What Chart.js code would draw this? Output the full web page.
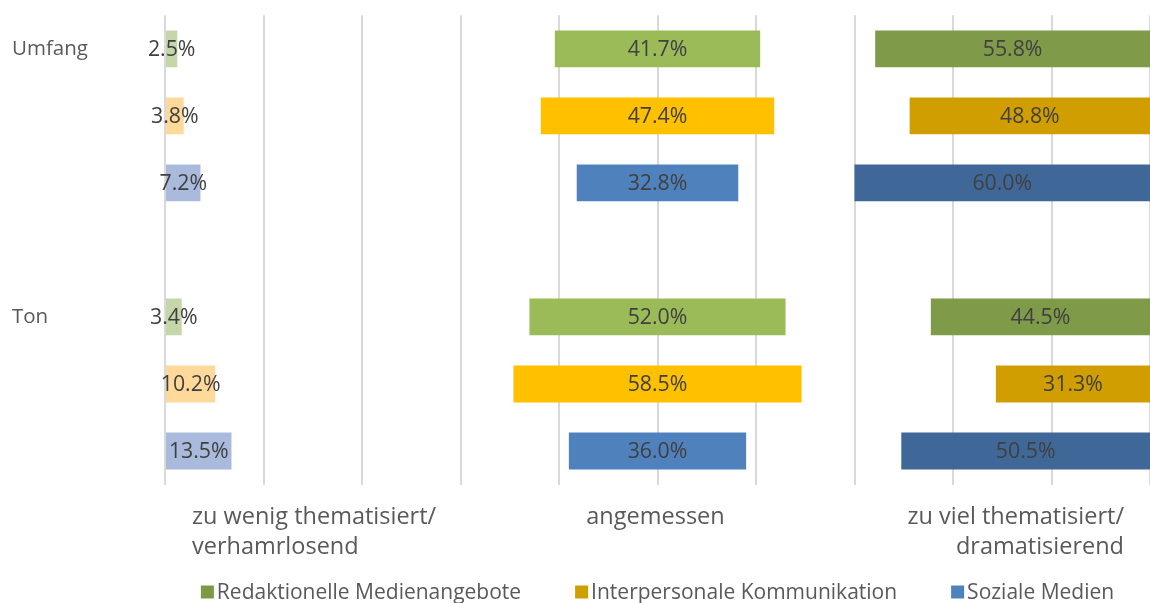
<!DOCTYPE html>
<html>
<head>
<meta charset="utf-8">
<script src="https://cdn.jsdelivr.net/npm/chart.js@4"></script>
<style>
  html, body { margin: 0; padding: 0; background: #fff; }
</style>
</head>
<body>
<canvas id="mediaChart" width="1150" height="603"></canvas>
<script>
const categories = ["Umfang", "Ton"];
const seriesNames = ["Redaktionelle Medienangebote", "Interpersonale Kommunikation", "Soziale Medien"];
const panelLabels = [["zu wenig thematisiert/", "verhamrlosend"], ["angemessen"], ["zu viel thematisiert/", "dramatisierend"]];

// row order: Umfang (Redaktionell, Interpersonal, Sozial), then Ton in the same order
const zuWenig = [2.5, 3.8, 7.2, 3.4, 10.2, 13.5];
const angemessen = [41.7, 47.4, 32.8, 52.0, 58.5, 36.0];
const zuViel = [55.8, 48.8, 60.0, 44.5, 31.3, 50.5];

const paleColors = ["#C5D6A8", "#FFD999", "#A9BADC"];
const midColors = ["#9BBB59", "#FFC000", "#4F81BD"];
const darkColors = ["#7F9A48", "#D19E00", "#3F6797"];
const legendColors = ["#7A9A45", "#D19E00", "#4F81BD"];

Chart.defaults.font.family = "'Open Sans', sans-serif";

// one row per bar, with an empty row between the two categories
const rowLabels = [];
const rowIndex = [];
categories.forEach((cat, c) => {
  if (c > 0) {
    rowLabels.push("");
    rowIndex.push(null);
  }
  seriesNames.forEach((name, s) => {
    rowLabels.push(s === 0 ? cat : "");
    rowIndex.push(c * seriesNames.length + s);
  });
});

const pick = (arr) => rowIndex.map((i) => (i === null ? null : arr[i]));
const colorsFor = (palette) => rowIndex.map((i) => (i === null ? "transparent" : palette[i % seriesNames.length]));

// invisible pieces so the middle bar sits centred at 100 and the right bar ends at 200
const spacerLeft = rowIndex.map((i) => (i === null ? null : 100 - angemessen[i] / 2 - zuWenig[i]));
const spacerRight = rowIndex.map((i) => (i === null ? null : 100 - angemessen[i] / 2 - zuViel[i]));

const datasets = [
  { label: "zu wenig", data: pick(zuWenig), backgroundColor: colorsFor(paleColors), showValue: true },
  { label: "spacer1", data: spacerLeft, backgroundColor: "transparent" },
  { label: "angemessen", data: pick(angemessen), backgroundColor: colorsFor(midColors), showValue: true },
  { label: "spacer2", data: spacerRight, backgroundColor: "transparent" },
  { label: "zu viel", data: pick(zuViel), backgroundColor: colorsFor(darkColors), showValue: true },
];

const overlayPlugin = {
  id: "overlay",
  afterDatasetsDraw(chart) {
    const ctx = chart.ctx;
    ctx.save();
    ctx.font = "21.3px 'Open Sans'";
    ctx.fillStyle = "#404040";
    ctx.textAlign = "center";
    ctx.textBaseline = "middle";
    chart.data.datasets.forEach((ds, d) => {
      if (!ds.showValue) return;
      chart.getDatasetMeta(d).data.forEach((bar, i) => {
        const v = ds.data[i];
        if (v === null) return;
        const p = bar.getCenterPoint();
        ctx.fillText(v.toFixed(1) + "%", p.x, p.y + 1);
      });
    });
    ctx.restore();
  },
  afterDraw(chart) {
    const ctx = chart.ctx;
    const area = chart.chartArea;
    const xs = chart.scales.x;
    ctx.save();

    // panel captions under the axis
    ctx.font = "23.5px 'Open Sans'";
    ctx.fillStyle = "#595959";
    ctx.textBaseline = "alphabetic";
    const y1 = area.bottom + 39;
    const lineGap = 30;
    ctx.textAlign = "left";
    panelLabels[0].forEach((t, k) => ctx.fillText(t, xs.getPixelForValue(0) + 27, y1 + k * lineGap));
    ctx.textAlign = "center";
    panelLabels[1].forEach((t, k) => ctx.fillText(t, xs.getPixelForValue(100) - 2, y1 + k * lineGap));
    ctx.textAlign = "right";
    panelLabels[2].forEach((t, k) => ctx.fillText(t, xs.getPixelForValue(200) - 26, y1 + k * lineGap));

    // legend
    ctx.font = "21px 'Open Sans'";
    ctx.textAlign = "left";
    ctx.textBaseline = "middle";
    const box = 13;
    const textGap = 3;
    const itemGap = 54;
    const widths = seriesNames.map((n) => ctx.measureText(n).width);
    const total = widths.reduce((a, w) => a + box + textGap + w, 0) + itemGap * (seriesNames.length - 1);
    let x = (area.left + area.right) / 2 - total / 2;
    const ly = area.bottom + 107.5;
    seriesNames.forEach((name, s) => {
      ctx.fillStyle = legendColors[s];
      ctx.fillRect(x, ly - box / 2, box, box);
      ctx.fillStyle = "#595959";
      ctx.fillText(name, x + box + textGap, ly + 1);
      x += box + textGap + widths[s] + itemGap;
    });
    ctx.restore();
  },
};

new Chart(document.getElementById("mediaChart"), {
  type: "bar",
  data: {
    labels: rowLabels,
    datasets,
  },
  plugins: [overlayPlugin],
  options: {
    responsive: false,
    animation: false,
    indexAxis: "y",
    layout: {
      padding: { top: 13, right: 0, bottom: 118.5, left: 12 },
    },
    datasets: {
      bar: { barPercentage: 0.55, categoryPercentage: 1 },
    },
    plugins: {
      legend: { display: false },
      tooltip: { enabled: false },
    },
    scales: {
      x: {
        stacked: true,
        min: 0,
        max: 200,
        ticks: { display: false, stepSize: 20 },
        grid: { color: "#D9D9D9", lineWidth: 2, drawTicks: false },
        border: { display: false },
      },
      y: {
        stacked: true,
        grid: { display: false },
        border: { display: false },
        ticks: {
          autoSkip: false,
          crossAlign: "far",
          color: "#595959",
          font: { size: 20.5 },
        },
        afterFit: (scale) => {
          scale.width = 153;
        },
      },
    },
  },
});
</script>
</body>
</html>
